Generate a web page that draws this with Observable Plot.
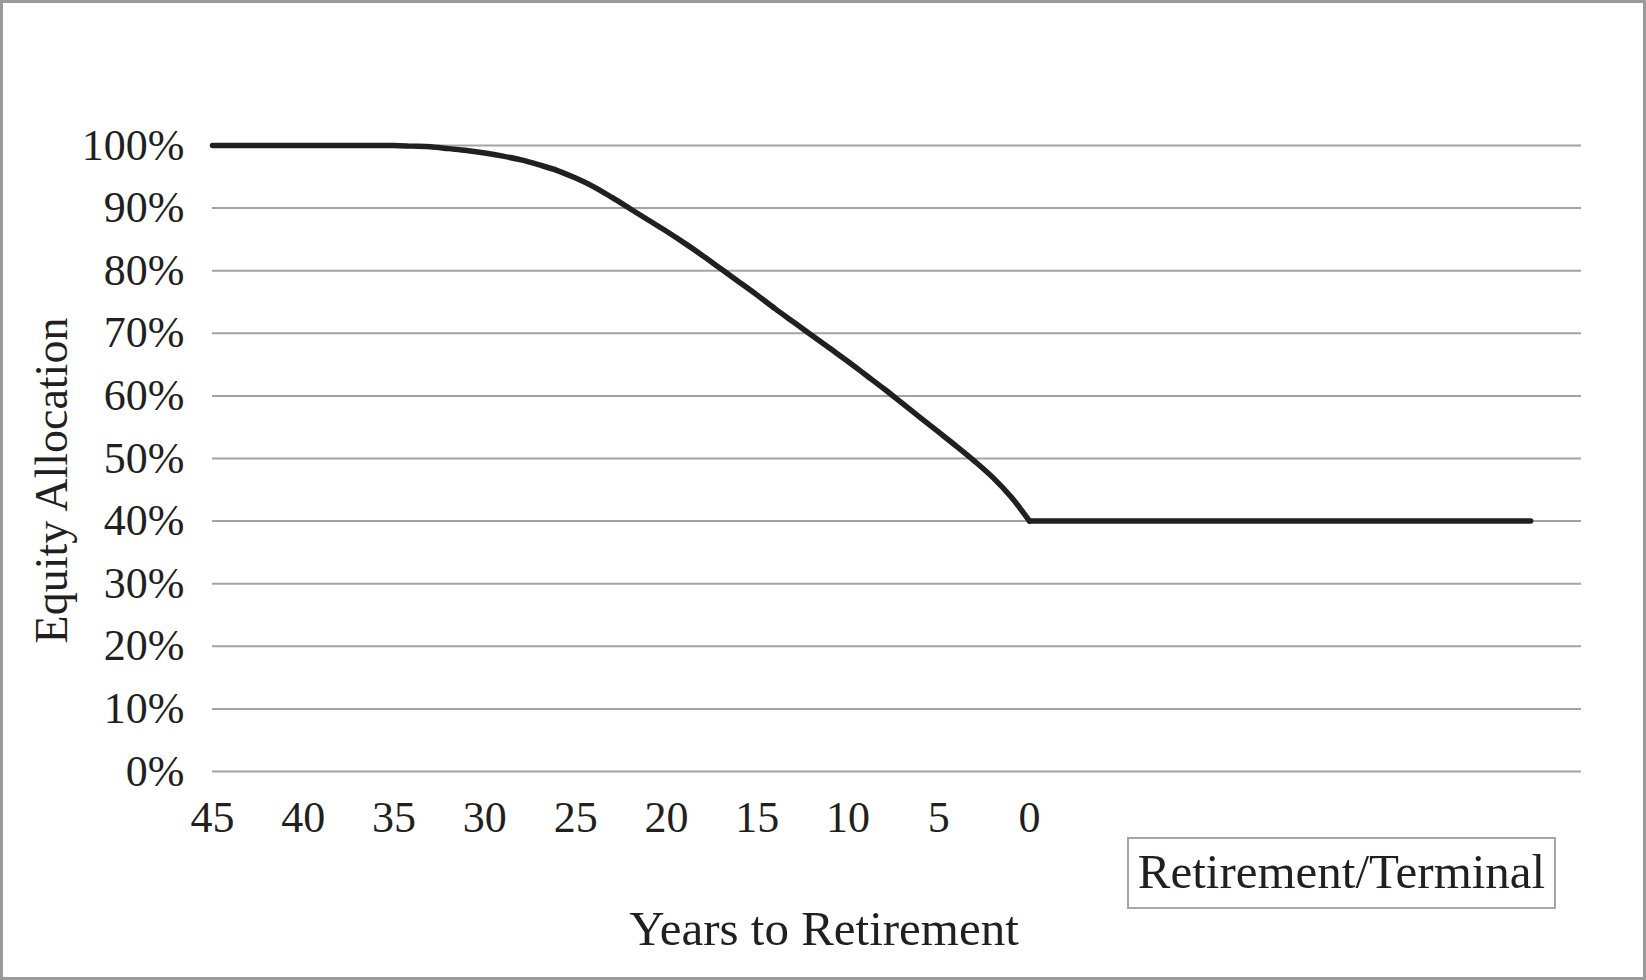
<!DOCTYPE html>
<html>
<head>
<meta charset="utf-8">
<script src="https://cdn.jsdelivr.net/npm/d3@7"></script>
<script src="https://cdn.jsdelivr.net/npm/@observablehq/plot@0.6"></script>
<style>
  html, body { margin: 0; padding: 0; background: #fff; }
  #wrap { position: relative; width: 1646px; height: 980px; overflow: hidden; color: #231f20; font-family: 'Liberation Serif', 'Times New Roman', serif; }
  #wrap svg { position: absolute; left: 0; top: 0; }
  #frame { position: absolute; left: 0; top: 0; width: 1646px; height: 980px; box-sizing: border-box; border: 3px solid #9a9a9a; pointer-events: none; }
  #legendBox { position: absolute; left: 1127px; top: 837px; width: 429px; height: 72px; box-sizing: border-box; border: 2px solid #a6a6a6; font-size: 49px; line-height: 66px; text-align: center; background: #fff; white-space: nowrap; }
</style>
</head>
<body>
<div id="wrap"></div>
<script>
// Years to retirement (x) and equity allocation in percent (y)
const years = [45,44,43,42,41,40,39,38,37,36,35,34,33,32,31,30,29,28,27,26,25,24,23,22,21,20,19,18,17,16,15,14,13,12,11,10,9,8,7,6,5,4,3,2,1,0];
const equityPct = [100,100,100,100,100,100,100,100,100,100,100,
  99.9,99.8,99.5,99.2,98.8,98.3,97.7,96.9,96.0,94.8,
  93.4,91.7,89.9,88.1,86.3,84.4,82.4,80.3,78.2,76.1,
  73.9,71.8,69.7,67.6,65.5,63.3,61.1,58.8,56.5,54.2,
  51.9,49.5,46.9,43.8,40.0];
// Flat terminal segment after retirement
const terminalYears = [0, -27.6];
const terminalPct = [40, 40];
const xDomain = [45, -30.4];
const xTicks = [45,40,35,30,25,20,15,10,5,0];
const yTicks = [0,10,20,30,40,50,60,70,80,90,100];
const yLabel = "Equity Allocation";
const xLabel = "Years to Retirement";
const boxLabel = "Retirement/Terminal";

const glide = years.map((y, i) => ({year: y, equity: equityPct[i]}));
const terminal = terminalYears.map((y, i) => ({year: y, equity: terminalPct[i]}));

const lineStyle = {x: "year", y: "equity", stroke: "#231f20", strokeWidth: 5.5, strokeLinecap: "round", strokeLinejoin: "round"};

const chart = Plot.plot({
  width: 1646,
  height: 980,
  marginLeft: 212,
  marginRight: 65,
  marginTop: 145,
  marginBottom: 209,
  x: {domain: xDomain, axis: null},
  y: {domain: [0, 100], axis: null},
  style: {fontFamily: "'Liberation Serif', 'Times New Roman', serif", background: "transparent", color: "#231f20"},
  marks: [
    Plot.ruleY(yTicks, {stroke: "#a3a3a3", strokeWidth: 2}),
    Plot.axisY(yTicks, {anchor: "left", tickSize: 0, tickPadding: 28, fontSize: 44, tickFormat: d => d + "%", label: null}),
    Plot.axisX(xTicks, {anchor: "bottom", tickSize: 0, tickPadding: 29, fontSize: 44, tickFormat: d => String(d), label: null}),
    Plot.line(glide, {...lineStyle, curve: "catmull-rom"}),
    Plot.line(terminal, lineStyle),
    Plot.text([yLabel], {frameAnchor: "left", dx: -160, dy: 22, rotate: -90, textAnchor: "middle", lineAnchor: "middle", fontSize: 46, fill: "#231f20"}),
    Plot.text([xLabel], {frameAnchor: "bottom", dx: -73, dy: 158, textAnchor: "middle", lineAnchor: "middle", fontSize: 49, fill: "#231f20"})
  ]
});

const wrap = document.getElementById("wrap");
wrap.appendChild(chart);
const box = document.createElement("div");
box.id = "legendBox";
box.textContent = boxLabel;
wrap.appendChild(box);
const frame = document.createElement("div");
frame.id = "frame";
wrap.appendChild(frame);
</script>
</body>
</html>
